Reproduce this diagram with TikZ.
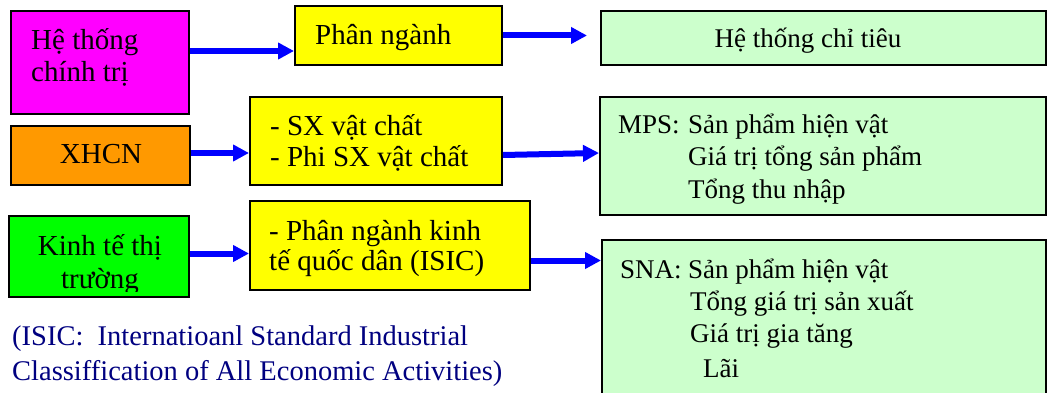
\documentclass[tikz,border=0pt]{standalone}
\usepackage{fontspec}
\setmainfont{Liberation Serif}
\usetikzlibrary{arrows.meta,calc}

\definecolor{boxmagenta}{RGB}{255,0,255}
\definecolor{boxorange}{RGB}{255,153,0}
\definecolor{boxgreen}{RGB}{0,255,0}
\definecolor{boxyellow}{RGB}{255,255,0}
\definecolor{boxmint}{RGB}{204,255,204}
\definecolor{arrowblue}{RGB}{0,0,255}
\definecolor{notenavy}{RGB}{0,0,128}

% multi-line texts are placed by the baseline of their last line
\tikzset{
  box/.style={draw=black, line width=2pt, rectangle, inner sep=0pt,
    anchor=north west},
  lefttext/.style={font=\fontsize{29}{31}\selectfont, inner sep=0pt,
    align=left, anchor=base west},
  righttext/.style={font=\fontsize{27}{32.5}\selectfont, inner sep=0pt,
    align=left, anchor=base west},
  conn/.style={draw=arrowblue, line width=6pt,
    -{Triangle[length=16pt,width=16pt]}},
}

\begin{document}
\begin{tikzpicture}[x=1pt,y=-1pt]
\useasboundingbox (0,0) rectangle (1049,393);
\clip (0,0) rectangle (1049,393);

% left column: economic/political systems
\node[box, fill=boxmagenta, minimum width=178pt, minimum height=103pt] (polit) at (10,10) {};
\node[box, fill=boxorange,  minimum width=179pt, minimum height=59pt]  (xhcn)  at (10,125) {};
\node[box, fill=boxgreen,   minimum width=180pt, minimum height=81pt]  (market) at (8,215) {};

% middle column: classifications
\node[box, fill=boxyellow, minimum width=207pt, minimum height=59pt] (phan) at (294,5) {};
\node[box, fill=boxyellow, minimum width=252pt, minimum height=88pt] (sx)   at (249,96) {};
\node[box, fill=boxyellow, minimum width=280pt, minimum height=89pt] (isic) at (249,200) {};

% right column: indicator systems
\node[box, fill=boxmint, minimum width=445pt, minimum height=54pt]  (chitieu) at (600,10) {};
\node[box, fill=boxmint, minimum width=446pt, minimum height=118pt] (mps)     at (599,96) {};
\node[box, fill=boxmint, minimum width=444pt, minimum height=181pt] (sna)     at (601,239) {};

% box texts
\node[lefttext, font=\fontsize{29}{32}\selectfont] (politTxt) at (31,82) {Hệ thống\\chính trị};
\node[lefttext, anchor=base] (xhcnTxt) at (101,164) {XHCN};
\begin{scope}
  \clip (8,215) rectangle (188,291);
  \node[lefttext, anchor=base, align=center, font=\fontsize{29}{33}\selectfont]
    (marketTxt) at (100,288) {Kinh tế thị\\trường};
\end{scope}

\node[lefttext] (phanTxt) at (315,45) {Phân ngành};
\node[lefttext] (sxTxt)   at (270,166) {- SX vật chất\\- Phi SX vật chất};
\node[lefttext, font=\fontsize{29}{30}\selectfont] (isicTxt) at (269,270)
  {- Phân ngành kinh\\tế quốc dân (ISIC)};

\node[righttext, anchor=base] (chitieuTxt) at (808,48) {Hệ thống chỉ tiêu};
\node[righttext] (mpsTxt) at (618,198)
  {\makebox[70pt][l]{MPS:}Sản phẩm hiện vật\\
   \hspace*{70pt}Giá trị tổng sản phẩm\\
   \hspace*{70pt}Tổng thu nhập};
\node[righttext, font=\fontsize{27}{32}\selectfont] (snaTxt) at (620,377)
  {\makebox[68pt][l]{SNA:}Sản phẩm hiện vật\\
   \hspace*{70pt}Tổng giá trị sản xuất\\
   \hspace*{70pt}Giá trị gia tăng\\[3pt]
   \hspace*{83pt}Lãi};

% footnote
\node[lefttext, text=notenavy, font=\fontsize{28.5}{35}\selectfont] (note) at (12,380)
  {(ISIC:\ \ Internatioanl Standard Industrial\\Classiffication of All Economic Activities)};

% connectors
\coordinate (a1) at ($(polit.east)+(0,-11.5)$);
\draw[conn] (a1) -- (a1 -| phan.west);
\coordinate (a2) at ($(phan.east)+(84,0)$);
\draw[conn] (phan.east) -- (a2);
\coordinate (a3) at ($(xhcn.east)+(0,-2.5)$);
\draw[conn] (a3) -- (a3 -| sx.west);
\draw[conn] ($(sx.east)+(0,14)$) -- ($(mps.west)+(0,-3)$);
\coordinate (a5) at ($(market.east)+(0,-3)$);
\draw[conn] (a5) -- (a5 -| isic.west);
\coordinate (a6) at ($(isic.east)+(0,15)$);
\draw[conn] (a6) -- (a6 -| sna.west);
\end{tikzpicture}
\end{document}
